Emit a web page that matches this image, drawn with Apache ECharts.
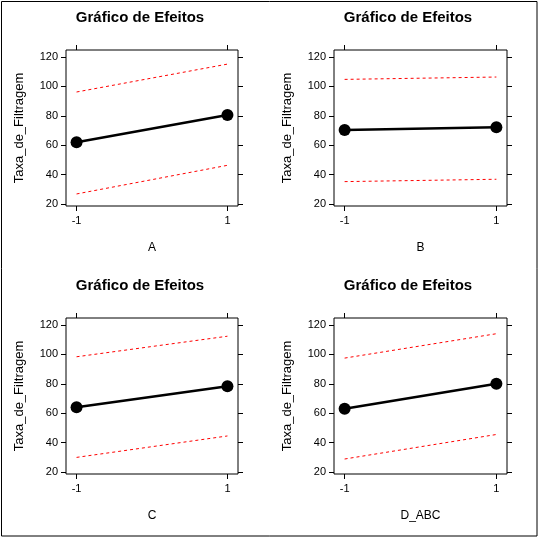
<!DOCTYPE html>
<html>
<head>
<meta charset="utf-8">
<script src="https://cdn.jsdelivr.net/npm/echarts@6/dist/echarts.min.js"></script>
<style>
  html, body { margin: 0; padding: 0; background: #fff; }
  #main { width: 539px; height: 539px; }
</style>
</head>
<body>
<div id="main"></div>
<script>
var myChart = echarts.init(document.getElementById('main'));

// dados
var xLevels = [-1, 1];
var factors = ['A', 'B', 'C', 'D_ABC'];
var yTicks = [20, 40, 60, 80, 100, 120];

var meanA = [62.0, 80.5];
var upperA = [96.2, 115.2];
var lowerA = [26.8, 46.3];

var meanB = [70.3, 72.2];
var upperB = [104.8, 106.4];
var lowerB = [35.2, 36.8];

var meanC = [64.1, 78.3];
var upperC = [98.4, 112.4];
var lowerC = [29.9, 44.5];

var meanD = [63.0, 80.0];
var upperD = [97.5, 114.1];
var lowerD = [28.8, 45.5];

var means = [meanA, meanB, meanC, meanD];
var uppers = [upperA, upperB, upperC, upperD];
var lowers = [lowerA, lowerB, lowerC, lowerD];

// posições dos quatro painéis
var boxes = [
  { left: 66, top: 50, width: 172, height: 156 },
  { left: 334, top: 50, width: 173, height: 156 },
  { left: 66, top: 318, width: 172, height: 156 },
  { left: 334, top: 318, width: 173, height: 156 }
];

var font = 'Arial, "Liberation Sans", sans-serif';

function pts(arr) {
  return xLevels.map(function (x, i) { return [x, arr[i]]; });
}

var grid = [], xAxis = [], yAxis = [], series = [], title = [];

boxes.forEach(function (b, g) {
  grid.push({
    left: b.left, top: b.top, width: b.width, height: b.height,
    show: true, borderColor: '#000', borderWidth: 1, backgroundColor: '#fff'
  });
  title.push({
    text: 'Gráfico de Efeitos',
    left: b.left + 69,
    top: b.top - 45,
    textAlign: 'center',
    textStyle: { fontFamily: font, fontSize: 15, fontWeight: 'bold', color: '#000' }
  });

  var tick = { show: true, inside: false, length: 5, lineStyle: { color: '#000', width: 1 } };
  var noLine = { show: false, onZero: false };

  xAxis.push({
    gridIndex: g, type: 'value', position: 'bottom',
    min: -1.14, max: 1.14,
    name: factors[g], nameLocation: 'middle', nameGap: 36,
    nameTextStyle: { fontFamily: font, fontSize: 12, color: '#000' },
    axisLine: noLine,
    axisTick: Object.assign({ customValues: xLevels }, tick),
    axisLabel: { customValues: xLevels, fontFamily: font, fontSize: 11, color: '#000', margin: 9 },
    splitLine: { show: false }
  });
  xAxis.push({
    gridIndex: g, type: 'value', position: 'top',
    min: -1.14, max: 1.14,
    axisLine: noLine,
    axisTick: Object.assign({ customValues: xLevels }, tick),
    axisLabel: { show: false },
    splitLine: { show: false }
  });
  yAxis.push({
    gridIndex: g, type: 'value', position: 'left',
    min: 18.6, max: 124.8,
    name: 'Taxa_de_Filtragem', nameLocation: 'middle', nameGap: 40,
    nameTextStyle: { fontFamily: font, fontSize: 13, color: '#000' },
    axisLine: noLine,
    axisTick: Object.assign({ customValues: yTicks }, tick),
    axisLabel: { customValues: yTicks, fontFamily: font, fontSize: 11, color: '#000', margin: 8 },
    splitLine: { show: false }
  });
  yAxis.push({
    gridIndex: g, type: 'value', position: 'right',
    min: 18.6, max: 124.8,
    axisLine: noLine,
    axisTick: Object.assign({ customValues: yTicks }, tick),
    axisLabel: { show: false },
    splitLine: { show: false }
  });

  [uppers[g], lowers[g]].forEach(function (arr) {
    series.push({
      type: 'line', xAxisIndex: 2 * g, yAxisIndex: 2 * g,
      data: pts(arr), symbol: 'none', silent: true,
      lineStyle: { color: '#ff0000', width: 1, type: [3, 3] }
    });
  });
  series.push({
    type: 'line', xAxisIndex: 2 * g, yAxisIndex: 2 * g,
    data: pts(means[g]), symbol: 'circle', symbolSize: 12, silent: true,
    lineStyle: { color: '#000', width: 2.5 },
    itemStyle: { color: '#000' }
  });
});

var option = {
  backgroundColor: '#fff',
  animation: false,
  title: title,
  grid: grid,
  xAxis: xAxis,
  yAxis: yAxis,
  series: series,
  graphic: [{
    type: 'rect',
    shape: { x: 1.5, y: 1.5, width: 535.5, height: 534.5 },
    style: { fill: 'none', stroke: '#000', lineWidth: 1 },
    silent: true
  }]
};

myChart.setOption(option);
</script>
</body>
</html>
